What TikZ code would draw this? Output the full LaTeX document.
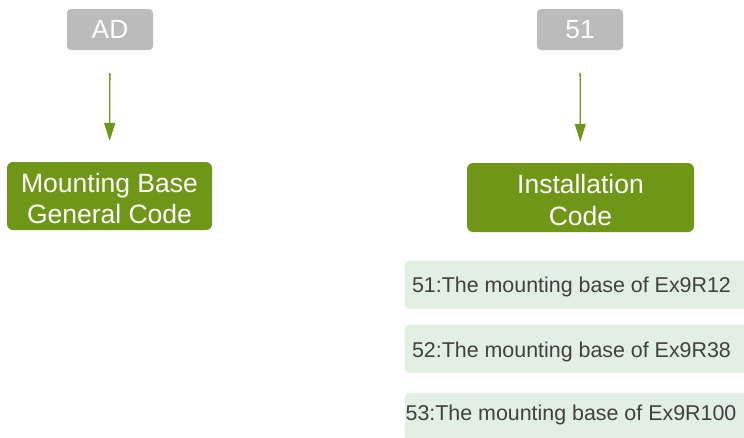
\documentclass[tikz,border=0pt]{standalone}
\usepackage{fontspec}
\setmainfont{Liberation Sans}
\usetikzlibrary{arrows.meta}
\definecolor{codegray}{RGB}{187,187,187}
\definecolor{codegreen}{RGB}{112,150,24}
\definecolor{lightgreen}{RGB}{226,239,227}
\definecolor{darktext}{RGB}{64,64,64}
\begin{document}
\begin{tikzpicture}[x=1pt,y=-1pt,
  graybox/.style={fill=codegray, rounded corners=4pt, inner sep=0pt, text=white,
    font=\fontsize{26.3}{31}\selectfont, minimum width=86pt, minimum height=41pt},
  greenbox/.style={fill=codegreen, rounded corners=6pt, inner sep=0pt, text=white,
    font=\fontsize{26.5}{31.5}\selectfont, align=center},
  lightbox/.style={fill=lightgreen, rounded corners=4pt, inner sep=0pt,
    minimum width=355pt, minimum height=48pt},
  lighttext/.style={anchor=base, inner sep=0pt, text=darktext,
    font=\fontsize{21.4}{25}\selectfont},
  flow/.style={draw=codegreen, line width=1.3pt,
    -{Triangle[width=11pt,length=18pt]}, shorten <=23pt, shorten >=21pt}
]
\useasboundingbox (0,0) rectangle (744,437);
\clip (0,0) rectangle (744,437);

\node[graybox] (ad) at (110,29.5) {AD};
\node[graybox] (c51) at (580,29.5) {51};

\node[greenbox, minimum width=205pt, minimum height=68pt] (gen) at (109.5,196) {\rule{0pt}{24pt}Mounting Base\\General Code};
\node[greenbox, minimum width=227pt, minimum height=69pt] (inst) at (580.5,197.5) {\rule{0pt}{24pt}Installation\\Code};

\draw[flow] (ad) -- (gen);
\draw[flow] (c51) -- (inst);

\node[lightbox] (o1) at (582.5,285) {};
\node[lightbox] (o2) at (582.5,349) {};
\node[lightbox] (o3) at (582.5,417) {};

\node[lighttext] (t1) at (571.5,292.7) {51:The mounting base of Ex9R12};
\node[lighttext] (t2) at (571.5,357.3) {52:The mounting base of Ex9R38};
\node[lighttext] (t3) at (571,420) {53:The mounting base of Ex9R100};
\end{tikzpicture}
\end{document}
